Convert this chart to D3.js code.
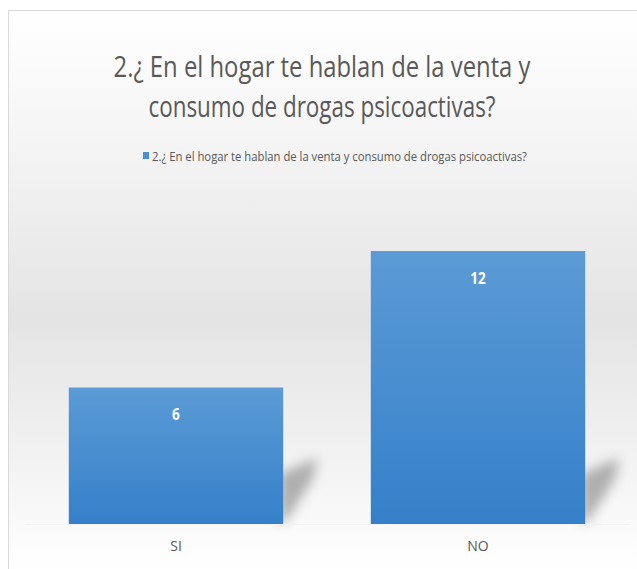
<!DOCTYPE html>
<html>
<head>
  <meta charset="utf-8">
  <title>D3</title>
  <script src="https://d3js.org/d3.v7.min.js"></script>
  <style>
    body { margin: 0; background: #fff; }
  </style>
</head>
<body>
<script>
  var categorias = ["SI", "NO"];
  var valores = [6, 12];
  var titulo = ["2.\u00bf En el hogar te hablan de la venta y", "consumo de drogas psicoactivas?"];
  var serie = "2.\u00bf En el hogar te hablan de la venta y consumo de drogas psicoactivas?";

  var w = 637, h = 569;
  var fuente = "'Open Sans', sans-serif";

  var svg = d3.select("body").append("svg").attr("width", w).attr("height", h);
  var defs = svg.append("defs");

  // fondo degradado
  var fondo = defs.append("linearGradient").attr("id", "fondo")
    .attr("x1", 0).attr("y1", 0).attr("x2", 0).attr("y2", 1);
  fondo.append("stop").attr("offset", "0%").attr("stop-color", "#ffffff");
  fondo.append("stop").attr("offset", "25%").attr("stop-color", "#f4f4f4");
  fondo.append("stop").attr("offset", "55%").attr("stop-color", "#e4e4e4");
  fondo.append("stop").attr("offset", "80%").attr("stop-color", "#f2f2f2");
  fondo.append("stop").attr("offset", "100%").attr("stop-color", "#ffffff");

  var barra = defs.append("linearGradient").attr("id", "barra")
    .attr("x1", 0).attr("y1", 0).attr("x2", 0).attr("y2", 1);
  barra.append("stop").attr("offset", "0%").attr("stop-color", "#5b9bd6");
  barra.append("stop").attr("offset", "100%").attr("stop-color", "#3580c9");

  defs.append("filter").attr("id", "borroso").attr("x", "-50%").attr("y", "-50%")
    .attr("width", "200%").attr("height", "200%")
    .append("feGaussianBlur").attr("stdDeviation", 6);

  svg.append("rect").attr("x", 8).attr("y", 10).attr("width", w - 8).attr("height", h - 10)
    .attr("fill", "url(#fondo)");
  svg.append("path").attr("d", "M8.5," + h + "V10.5H" + w)
    .attr("fill", "none").attr("stroke", "#d9d9d9");

  // titulo
  svg.selectAll(".titulo").data(titulo).enter().append("text")
    .attr("class", "titulo")
    .attr("x", 322)
    .attr("y", function(d, i) { return 77 + i * 40; })
    .attr("text-anchor", "middle")
    .attr("font-family", fuente)
    .attr("font-size", "30px")
    .attr("fill", "#595959")
    .attr("textLength", function(d, i) { return i === 0 ? 417 : 347; })
    .attr("lengthAdjust", "spacingAndGlyphs")
    .text(function(d) { return d; });

  // leyenda
  svg.append("rect").attr("x", 143).attr("y", 152).attr("width", 6).attr("height", 7)
    .attr("fill", "#4a8fd2");
  svg.append("text").attr("x", 152).attr("y", 161)
    .attr("font-family", fuente).attr("font-size", "13.5px").attr("fill", "#595959")
    .attr("textLength", 375).attr("lengthAdjust", "spacingAndGlyphs")
    .text(serie);

  var x = d3.scaleBand().domain(categorias).range([25, 629]).paddingInner(0.29).paddingOuter(0.145);
  var y = d3.scaleLinear().domain([0, 12]).range([524, 251]);

  var datos = categorias.map(function(c, i) { return {cat: c, val: valores[i]}; });

  // sombras
  svg.selectAll(".sombra").data(datos).enter().append("path")
    .attr("class", "sombra")
    .attr("d", function(d) {
      var r = x(d.cat) + x.bandwidth(), b = y(0);
      return "M" + (r - 4) + "," + (b - 50) + "L" + (r + 34) + "," + (b - 66) +
        "L" + (r + 30) + "," + (b - 46) + "L" + (r + 4) + "," + (b - 4) + "L" + (r - 4) + "," + b + "Z";
    })
    .attr("fill", "#808080")
    .attr("opacity", 0.6)
    .attr("filter", "url(#borroso)");

  svg.selectAll(".barra").data(datos).enter().append("rect")
    .attr("class", "barra")
    .attr("x", function(d) { return x(d.cat); })
    .attr("y", function(d) { return y(d.val); })
    .attr("width", x.bandwidth())
    .attr("height", function(d) { return y(0) - y(d.val); })
    .attr("fill", "url(#barra)");

  svg.selectAll(".valor").data(datos).enter().append("text")
    .attr("class", "valor")
    .attr("x", function(d) { return x(d.cat) + x.bandwidth() / 2; })
    .attr("y", function(d) { return y(d.val) + 33; })
    .attr("text-anchor", "middle")
    .attr("font-family", fuente)
    .attr("font-weight", "bold")
    .attr("font-size", "16px")
    .attr("fill", "#ffffff")
    .attr("transform", function(d) {
      var cx = x(d.cat) + x.bandwidth() / 2;
      return "translate(" + cx + ",0) scale(0.85,1) translate(" + (-cx) + ",0)";
    })
    .text(function(d) { return d.val; });

  // eje x
  var eje = svg.append("g").attr("transform", "translate(0," + y(0) + ")")
    .call(d3.axisBottom(x).tickSize(0).tickPadding(17));
  eje.select(".domain").attr("stroke", "#f2f2f2");
  eje.selectAll("text")
    .attr("font-family", fuente)
    .attr("font-size", "14px")
    .attr("fill", "#595959");
</script>
</body>
</html>
